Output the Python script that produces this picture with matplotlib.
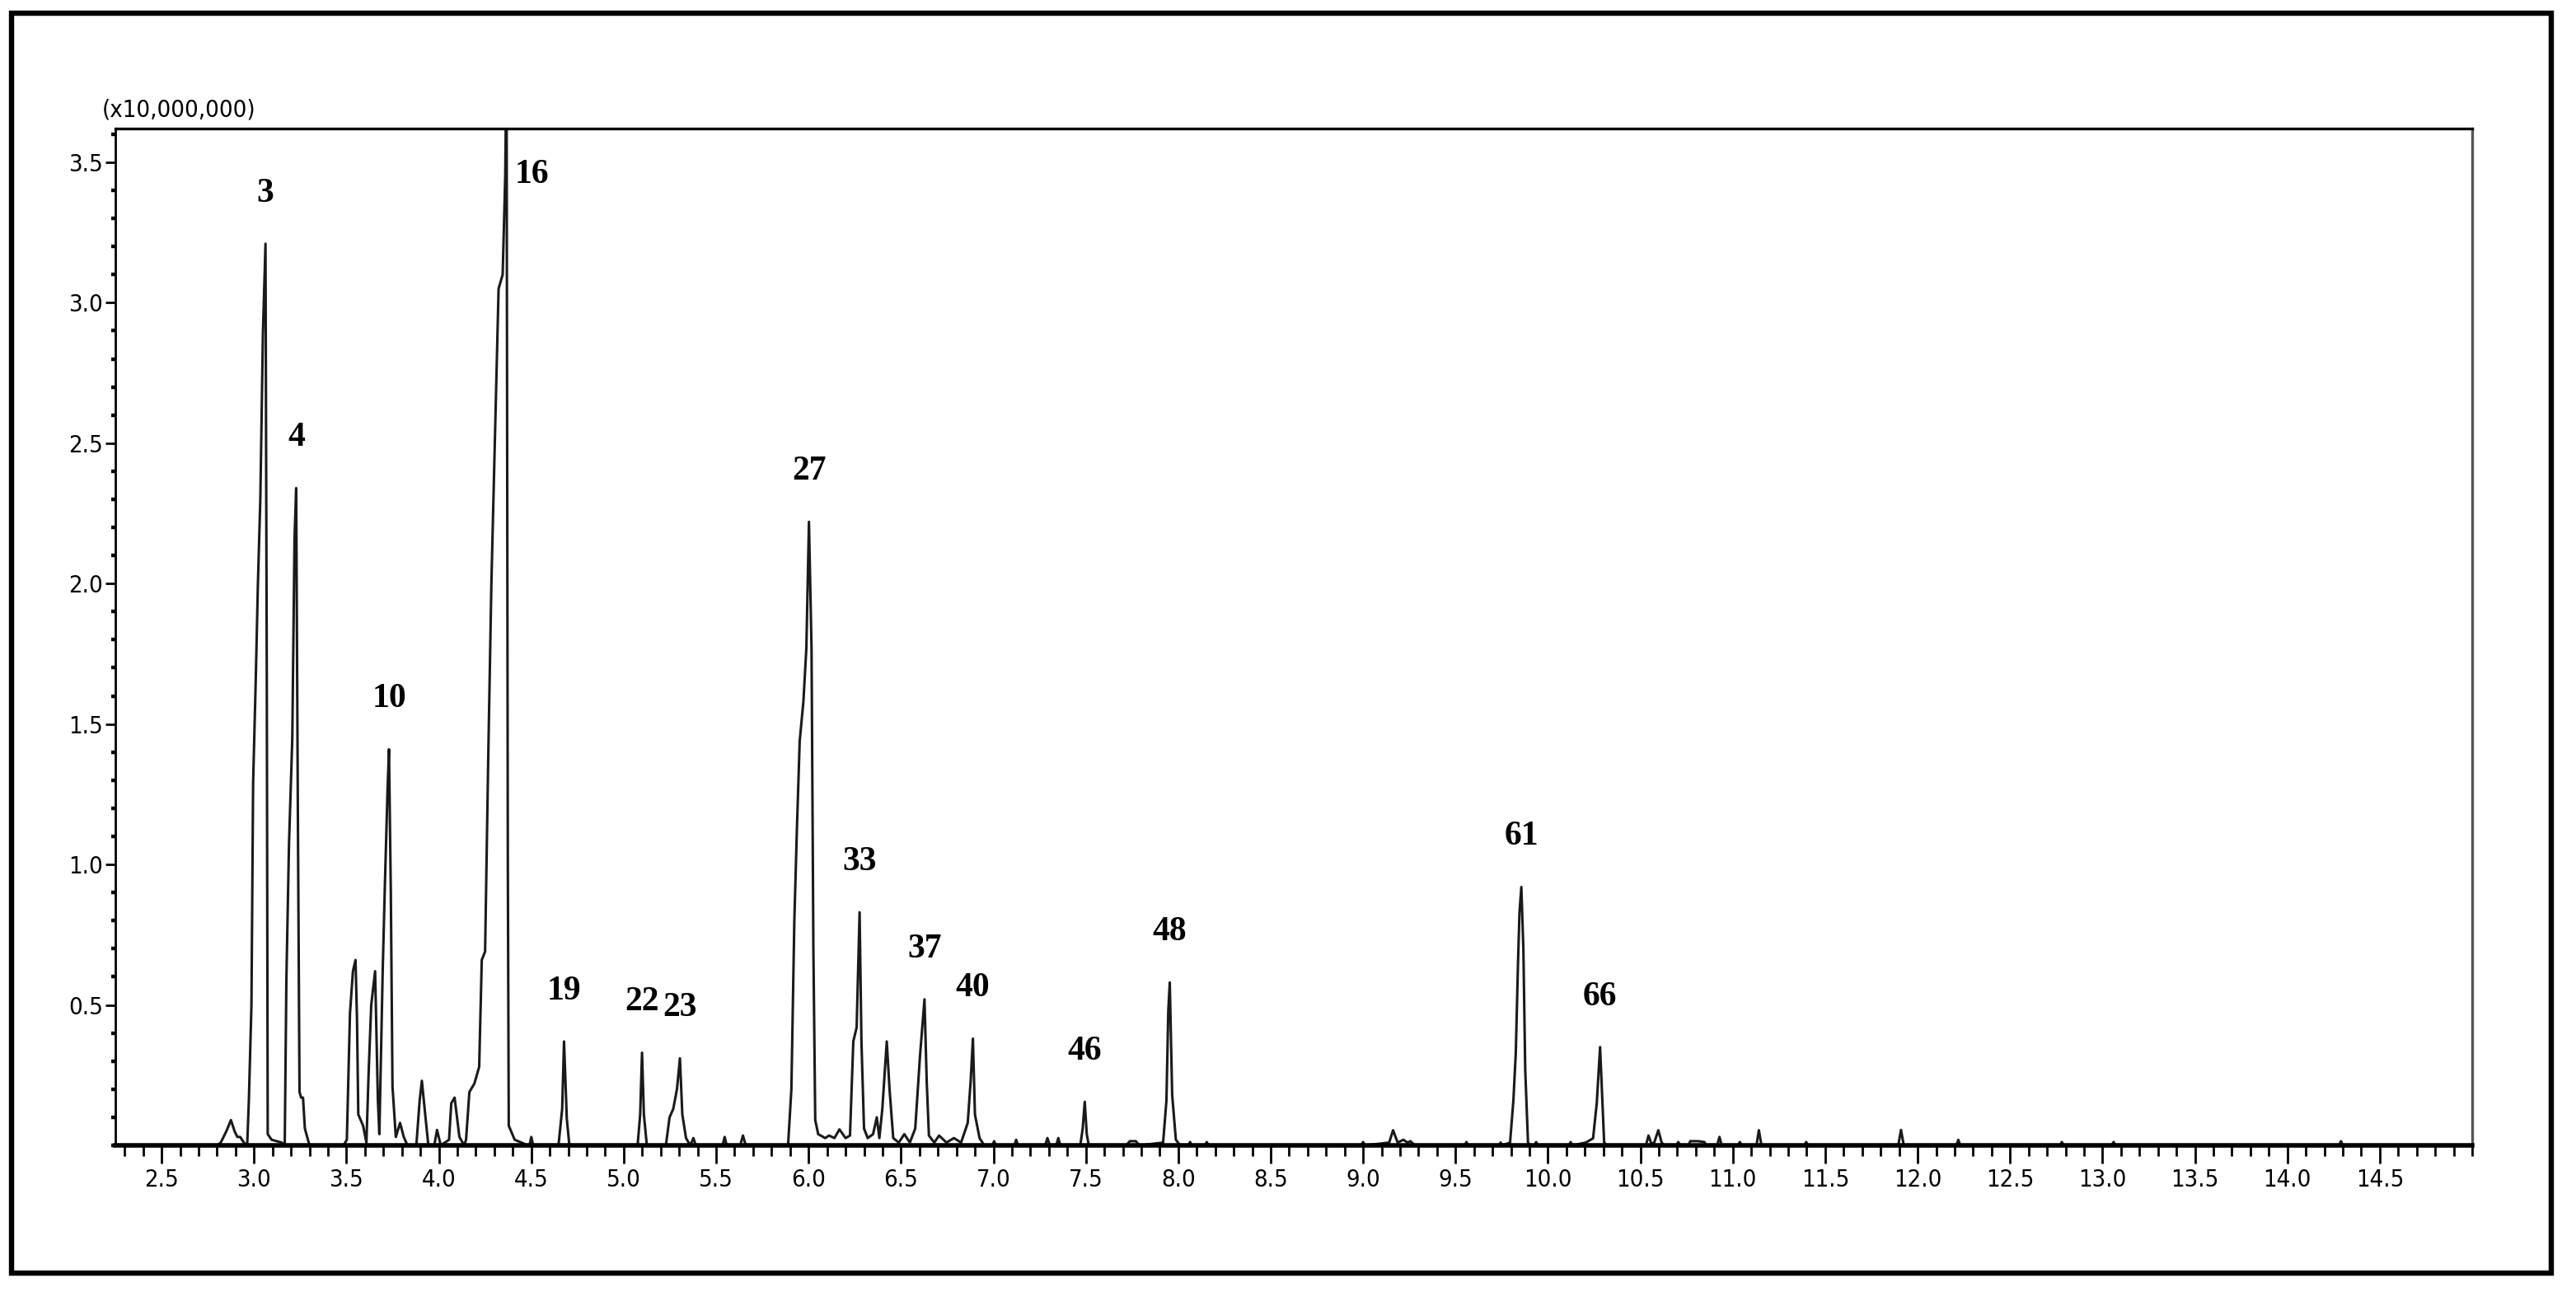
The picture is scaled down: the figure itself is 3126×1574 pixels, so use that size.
import numpy as np
import matplotlib
matplotlib.use('Agg')
import matplotlib.pyplot as plt
from matplotlib.ticker import MultipleLocator, FormatStrFormatter
from matplotlib.patches import Rectangle

# TIC trace, retention time (min) vs intensity (x10,000,000)
trace_time = [
    2.25, 2.80,
    2.82, 2.85, 2.875, 2.895, 2.91, 2.925, 2.945, 2.963,
    # peak 3
    2.972, 2.986, 2.995, 3.009, 3.021, 3.034, 3.048, 3.062, 3.069, 3.074, 3.095, 3.150, 3.166,
    # peak 4
    3.175, 3.189, 3.207, 3.219, 3.228, 3.237, 3.246, 3.255, 3.265, 3.275, 3.30,
    # cluster around peak 10
    3.484, 3.502, 3.519, 3.535, 3.549, 3.557, 3.564, 3.59, 3.608, 3.62, 3.634, 3.655, 3.67, 3.678,
    3.696, 3.708, 3.722, 3.73, 3.74, 3.749, 3.767, 3.79, 3.81, 3.83,
    3.878, 3.896, 3.908, 3.926, 3.943, 3.975, 3.99, 4.01, 4.055, 4.067, 4.085, 4.111, 4.137,
    # peak 16
    4.147, 4.165, 4.192, 4.218, 4.232, 4.25, 4.267, 4.284, 4.306, 4.323, 4.345, 4.359, 4.366,
    4.373, 4.378, 4.41, 4.447, 4.48, 4.49, 4.50, 4.51,
    # 19, 22, 23
    4.647, 4.667, 4.677, 4.692, 4.706,
    5.075, 5.089, 5.099, 5.109, 5.125,
    5.228, 5.248, 5.268, 5.288, 5.304, 5.317, 5.337, 5.36, 5.377, 5.39,
    5.535, 5.546, 5.557, 5.63, 5.645, 5.66,
    # peak 27
    5.889, 5.907, 5.923, 5.937, 5.952, 5.972, 5.988, 6.002, 6.016, 6.026, 6.036, 6.052,
    6.09, 6.111, 6.14, 6.167, 6.20, 6.224,
    # 33
    6.242, 6.26, 6.276, 6.286, 6.30, 6.32, 6.349, 6.369, 6.383, 6.399, 6.423, 6.438, 6.458,
    6.488, 6.518, 6.548,
    # 37
    6.577, 6.603, 6.627, 6.639, 6.651, 6.68, 6.706, 6.746, 6.786, 6.825,
    # 40
    6.861, 6.877, 6.889, 6.90, 6.925, 6.95, 6.994, 7.004, 7.014, 7.113, 7.123, 7.133,
    7.28, 7.292, 7.305, 7.34, 7.351, 7.362,
    # 46
    7.47, 7.483, 7.494, 7.505, 7.516,
    7.718, 7.738, 7.77, 7.79,
    # 48
    7.918, 7.936, 7.946, 7.954, 7.967, 7.987, 8.01, 8.055, 8.064, 8.073, 8.145, 8.154, 8.163,
    8.99, 9.0, 9.01, 9.141, 9.162, 9.187, 9.218, 9.24, 9.256, 9.28, 9.55, 9.559, 9.568,
    9.735, 9.744, 9.753,
    # 61
    9.795, 9.813, 9.826, 9.838, 9.846, 9.856, 9.867, 9.877, 9.892, 9.905, 9.927, 9.936, 9.945,
    10.114, 10.123, 10.132,
    # 66
    10.205, 10.244, 10.264, 10.282, 10.295, 10.304, 10.32,
    10.53, 10.544, 10.56, 10.575, 10.597, 10.615, 10.63,
    10.695, 10.705, 10.715, 10.76, 10.77, 10.81, 10.846, 10.856, 10.915, 10.928, 10.94,
    11.028, 11.038, 11.048, 11.128, 11.141, 11.155,
    11.387, 11.397, 11.407, 11.895, 11.91, 11.925, 12.21, 12.22, 12.23,
    12.77, 12.78, 12.79, 13.05, 13.06, 13.07, 14.28, 14.29, 14.30, 15.0,
]
trace_signal = [
    0.0, 0.0,
    0.01, 0.05, 0.09, 0.05, 0.03, 0.03, 0.01, 0.0,
    0.16, 0.50, 1.29, 1.65, 2.00, 2.30, 2.89, 3.21, 1.66, 0.04, 0.02, 0.01, 0.0,
    0.59, 1.07, 1.45, 2.16, 2.34, 1.19, 0.19, 0.17, 0.17, 0.06, 0.0,
    0.0, 0.02, 0.47, 0.62, 0.66, 0.45, 0.11, 0.07, 0.01, 0.26, 0.50, 0.62, 0.16, 0.04,
    0.62, 0.93, 1.26, 1.41, 0.90, 0.21, 0.03, 0.08, 0.03, 0.0,
    0.0, 0.16, 0.23, 0.11, 0.0, 0.0, 0.055, 0.0, 0.02, 0.15, 0.17, 0.03, 0.0,
    0.02, 0.19, 0.22, 0.28, 0.66, 0.69, 1.38, 2.0, 2.59, 3.05, 3.10, 3.45, 3.90,
    1.00, 0.07, 0.02, 0.01, 0.0, 0.0, 0.03, 0.0,
    0.0, 0.13, 0.37, 0.095, 0.0,
    0.0, 0.11, 0.33, 0.11, 0.0,
    0.0, 0.10, 0.13, 0.20, 0.31, 0.11, 0.026, 0.0, 0.026, 0.0,
    0.0, 0.03, 0.0, 0.0, 0.035, 0.0,
    0.0, 0.20, 0.80, 1.13, 1.44, 1.58, 1.77, 2.22, 1.77, 0.70, 0.09, 0.04,
    0.026, 0.035, 0.026, 0.057, 0.026, 0.035,
    0.37, 0.42, 0.83, 0.37, 0.06, 0.026, 0.04, 0.10, 0.026, 0.13, 0.37, 0.20, 0.026,
    0.01, 0.04, 0.01,
    0.06, 0.32, 0.52, 0.23, 0.035, 0.01, 0.035, 0.01, 0.026, 0.01,
    0.08, 0.23, 0.38, 0.11, 0.026, 0.0, 0.0, 0.015, 0.0, 0.0, 0.02, 0.0,
    0.0, 0.026, 0.0, 0.0, 0.026, 0.0,
    0.0, 0.06, 0.155, 0.04, 0.0,
    0.0, 0.015, 0.015, 0.0,
    0.01, 0.16, 0.48, 0.58, 0.18, 0.02, 0.0, 0.0, 0.012, 0.0, 0.0, 0.012, 0.0,
    0.0, 0.012, 0.0, 0.01, 0.054, 0.01, 0.02, 0.01, 0.015, 0.0, 0.0, 0.012, 0.0,
    0.0, 0.01, 0.0,
    0.01, 0.16, 0.33, 0.65, 0.83, 0.92, 0.70, 0.27, 0.01, 0.0, 0.0, 0.012, 0.0,
    0.0, 0.012, 0.0,
    0.01, 0.025, 0.15, 0.35, 0.15, 0.01, 0.0,
    0.0, 0.035, 0.005, 0.01, 0.054, 0.01, 0.0,
    0.0, 0.012, 0.0, 0.0, 0.015, 0.015, 0.012, 0.0, 0.0, 0.03, 0.0,
    0.0, 0.012, 0.0, 0.0, 0.054, 0.0,
    0.0, 0.012, 0.0, 0.0, 0.055, 0.0, 0.0, 0.02, 0.0,
    0.0, 0.012, 0.0, 0.0, 0.012, 0.0, 0.0, 0.015, 0.0, 0.0,
]

# labelled peaks
peak_ids = ['3', '4', '10', '19', '22', '23', '27', '33', '37', '40', '46', '48', '61', '66']
peak_rt = [3.062, 3.228, 3.73, 4.677, 5.099, 5.304, 6.002, 6.276, 6.627, 6.889, 7.494, 7.954, 9.856, 10.282]
peak_height = [3.21, 2.34, 1.41, 0.37, 0.33, 0.31, 2.22, 0.83, 0.52, 0.38, 0.155, 0.58, 0.92, 0.35]
# peak 16 runs off the top of the plot
off_scale_id = '16'
off_scale_rt = 4.366

x_labels = ['2.5', '3.0', '3.5', '4.0', '4.5', '5.0', '5.5', '6.0', '6.5', '7.0', '7.5', '8.0', '8.5',
            '9.0', '9.5', '10.0', '10.5', '11.0', '11.5', '12.0', '12.5', '13.0', '13.5', '14.0', '14.5']
y_labels = ['0.5', '1.0', '1.5', '2.0', '2.5', '3.0', '3.5']

sans = ['Liberation Sans Narrow', 'DejaVu Sans']
serif = ['Liberation Serif', 'DejaVu Serif']

fig = plt.figure(figsize=(15.63, 7.87), dpi=200)
ax = fig.add_axes([0.0448, 0.1169, 0.9149, 0.784])

ax.plot(trace_time, trace_signal, color='#1a1a1a', lw=1.1)

ax.set_xlim(2.25, 15.0)
ax.set_ylim(0, 3.62)

ax.set_xticks([float(s) for s in x_labels])
ax.set_xticklabels(x_labels)
ax.xaxis.set_minor_locator(MultipleLocator(0.1))
ax.set_yticks([float(s) for s in y_labels])
ax.set_yticklabels(y_labels)
ax.yaxis.set_minor_locator(MultipleLocator(0.1))

ax.tick_params(axis='x', which='major', direction='out', length=8, width=1.0, pad=2)
ax.tick_params(axis='x', which='minor', direction='out', length=4.5, width=1.0)
ax.tick_params(axis='y', which='major', direction='out', length=4.5, width=1.0, pad=1)
ax.tick_params(axis='y', which='minor', direction='out', length=1.8, width=1.6)
for lab in ax.get_xticklabels() + ax.get_yticklabels():
    lab.set_family(sans)
    lab.set_stretch('condensed')
    lab.set_fontsize(10.5)

ax.spines['bottom'].set_linewidth(2.0)
ax.spines['left'].set_linewidth(1.0)
ax.spines['top'].set_linewidth(1.2)
ax.spines['right'].set_linewidth(1.2)
ax.spines['right'].set_color('#555555')

for pid, rt, h in zip(peak_ids, peak_rt, peak_height):
    ax.annotate(pid, (rt, h), xytext=(0, 22), textcoords='offset points',
                ha='center', va='center', family=serif, fontweight='bold', fontsize=15)
ax.annotate(off_scale_id, (off_scale_rt, 3.62), xytext=(11, -20), textcoords='offset points',
            ha='center', va='center', family=serif, fontweight='bold', fontsize=15,
            annotation_clip=False)

fig.text(0.0397, 0.915, '(x10,000,000)', family=sans, stretch='condensed', fontsize=10.5,
         ha='left', va='center')

# outer frame around the whole figure
fig.patches.append(Rectangle((0.0045, 0.0184), 0.9859, 0.9714, transform=fig.transFigure,
                             fill=False, edgecolor='black', lw=2.3))

fig.savefig('out.png', dpi=200)
